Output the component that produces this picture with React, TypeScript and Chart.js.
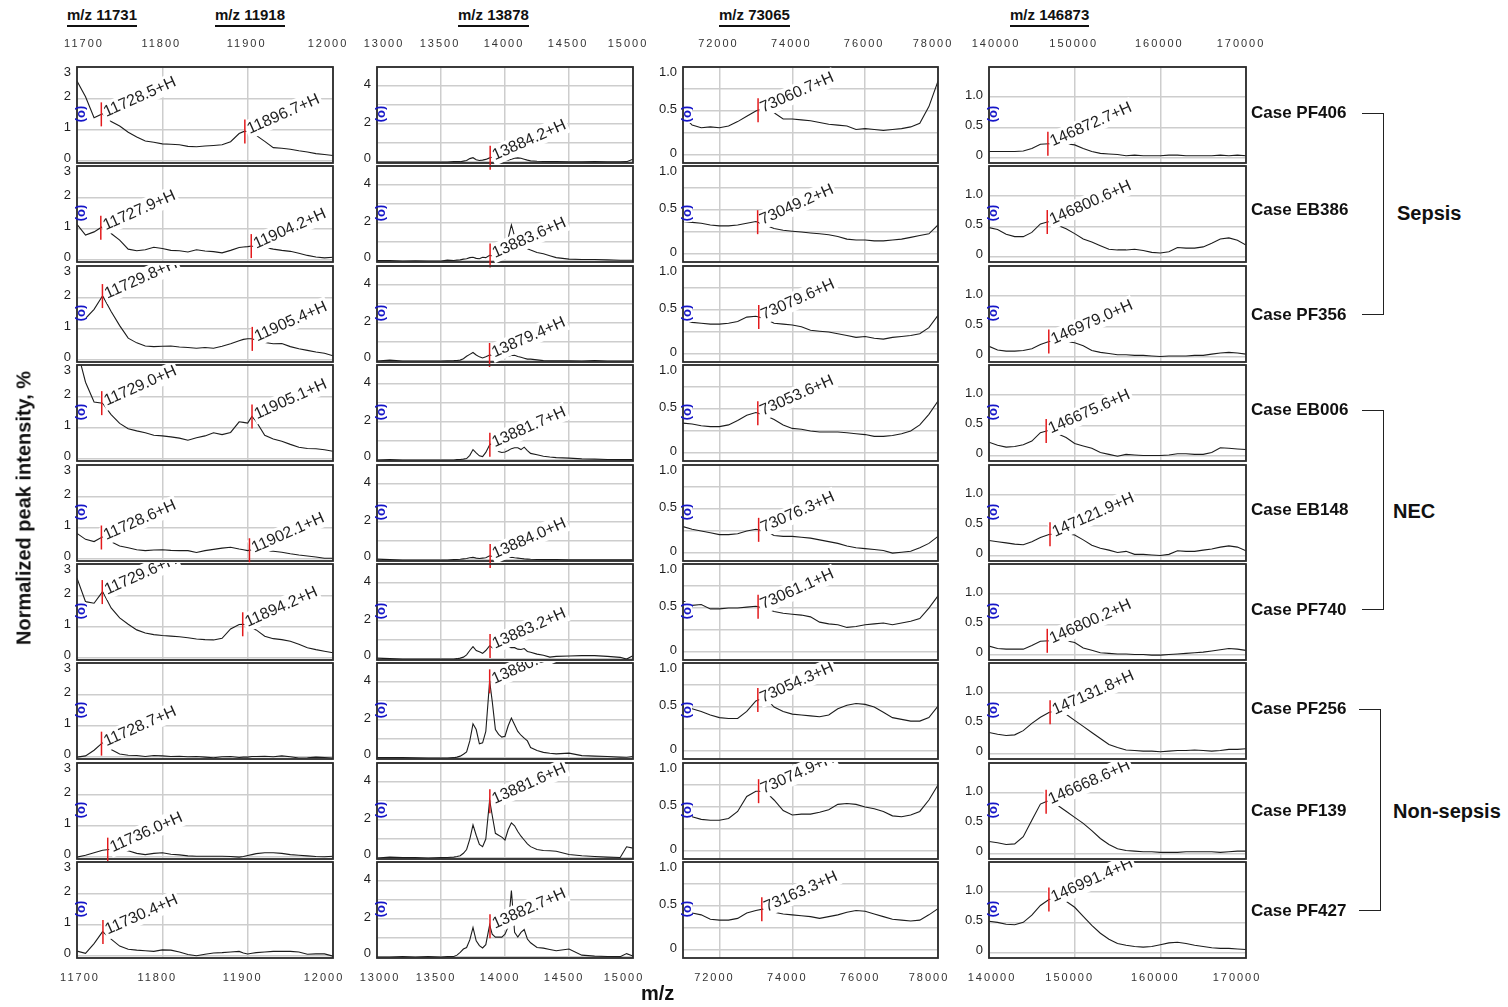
import React, { useEffect, useRef } from "react";
import { Chart, registerables } from "chart.js";
Chart.register(...registerables);

const FONT = '"Liberation Sans", Arial, Helvetica, sans-serif';

// ---------------- labels ----------------
const caseNames = ["Case PF406", "Case EB386", "Case PF356", "Case EB006", "Case EB148", "Case PF740", "Case PF256", "Case PF139", "Case PF427"];
const groupNames = ["Sepsis", "NEC", "Non-sepsis"];
const headerLabels = ["m/z 11731", "m/z 11918", "m/z 13878", "m/z 73065", "m/z 146873"];
const yTitle = "Normalized peak intensity, %";
const xTitle = "m/z";

// ---------------- column A : m/z 11731 / 11918 ----------------
const mzA = [11700, 11710, 11720, 11730, 11740, 11750, 11760, 11770, 11780, 11790, 11800, 11810, 11820, 11830, 11840, 11850, 11860, 11870, 11880, 11890, 11895, 11900, 11905, 11910, 11920, 11930, 11940, 11950, 11960, 11970, 11980, 11990, 12000];
const A_PF406 = [2.55, 2.05, 1.38, 1.51, 1.26, 1.12, 0.92, 0.77, 0.64, 0.6, 0.55, 0.54, 0.52, 0.47, 0.46, 0.48, 0.5, 0.52, 0.62, 0.88, 0.94, 0.96, 0.92, 0.82, 0.63, 0.43, 0.41, 0.38, 0.33, 0.29, 0.24, 0.21, 0.18];
const A_EB386 = [1.14, 0.8, 0.9, 1.07, 0.85, 0.64, 0.35, 0.3, 0.33, 0.41, 0.37, 0.31, 0.3, 0.26, 0.33, 0.29, 0.27, 0.23, 0.31, 0.4, 0.42, 0.43, 0.45, 0.42, 0.4, 0.35, 0.31, 0.28, 0.22, 0.15, 0.1, 0.07, 0.09];
const A_PF356 = [1.32, 1.33, 1.62, 2.05, 1.55, 1.1, 0.7, 0.55, 0.45, 0.43, 0.44, 0.45, 0.42, 0.4, 0.38, 0.4, 0.38, 0.44, 0.52, 0.62, 0.66, 0.68, 0.68, 0.64, 0.56, 0.52, 0.53, 0.43, 0.36, 0.31, 0.26, 0.22, 0.14];
const A_EB006 = [3.5, 2.45, 1.82, 1.78, 1.42, 1.14, 0.97, 0.9, 0.84, 0.76, 0.74, 0.71, 0.67, 0.6, 0.68, 0.74, 0.84, 0.78, 0.85, 1.19, 1.17, 1.15, 1.36, 1.2, 0.76, 0.64, 0.57, 0.47, 0.38, 0.34, 0.33, 0.3, 0.25];
const A_EB148 = [0.82, 0.63, 0.56, 0.71, 0.55, 0.42, 0.36, 0.3, 0.27, 0.29, 0.3, 0.28, 0.27, 0.27, 0.21, 0.27, 0.31, 0.35, 0.38, 0.32, 0.3, 0.27, 0.3, 0.28, 0.26, 0.25, 0.22, 0.17, 0.13, 0.1, 0.07, 0.03, 0.03];
const A_PF740 = [2.55, 1.8, 1.75, 2.12, 1.6, 1.28, 1.08, 0.9, 0.8, 0.75, 0.72, 0.7, 0.68, 0.65, 0.61, 0.59, 0.58, 0.63, 0.93, 1.07, 1.08, 1.05, 0.95, 0.9, 0.7, 0.62, 0.59, 0.54, 0.44, 0.33, 0.27, 0.22, 0.17];
const A_PF256 = [0.0, 0.04, 0.22, 0.46, 0.24, 0.1, 0.06, 0.05, 0.02, 0.05, 0.04, 0.02, 0.03, 0.01, 0.02, 0.0, -0.02, 0.01, 0.02, -0.01, 0.0, 0.0, 0.02, 0.02, 0.03, 0.01, 0.04, 0.01, -0.03, -0.02, 0.0, -0.01, -0.03];
const A_PF139 = [0.0, 0.06, 0.14, 0.22, 0.25, 0.25, 0.2, 0.12, 0.08, 0.12, 0.14, 0.09, 0.07, 0.04, 0.03, 0.03, 0.03, 0.03, 0.02, 0.0, 0.02, 0.05, 0.08, 0.11, 0.14, 0.14, 0.12, 0.08, 0.06, 0.04, 0.02, 0.01, 0.03];
const A_PF427 = [0.16, 0.09, 0.4, 0.78, 0.54, 0.32, 0.22, 0.19, 0.17, 0.15, 0.2, 0.19, 0.13, 0.05, 0.01, 0.06, 0.1, 0.11, 0.13, 0.15, 0.1, 0.07, 0.09, 0.11, 0.13, 0.15, 0.15, 0.15, 0.13, 0.06, 0.07, 0.07, 0.0];
const peaksA = [[11728.5, 11896.7], [11727.9, 11904.2], [11729.8, 11905.4], [11729.0, 11905.1], [11728.6, 11902.1], [11729.6, 11894.2], [11728.7], [11736.0], [11730.4]];
const xTicksA = [11700, 11800, 11900, 12000];
const yGridA = [0, 1, 2, 3];
const yLabelsA = [0, 1, 2, 3];

// ---------------- column B : m/z 13878 ----------------
const mzB = [13000, 13100, 13200, 13300, 13400, 13500, 13550, 13600, 13625, 13650, 13675, 13700, 13725, 13750, 13775, 13800, 13825, 13850, 13880, 13900, 13925, 13950, 13975, 14000, 14025, 14050, 14075, 14100, 14125, 14150, 14175, 14200, 14250, 14300, 14350, 14400, 14500, 14600, 14700, 14800, 14900, 14950, 15000];
const B_PF406 = [0, 0, 0, 0, 0, 0, 0, 0.02, 0.03, 0.02, 0.05, 0.08, 0.18, 0.23, 0.12, 0.08, 0.1, 0.14, 0.22, 0.26, 0.18, 0.12, 0.1, 0.12, 0.1, 0.15, 0.2, 0.22, 0.2, 0.15, 0.1, 0.06, 0.04, 0.03, 0.02, 0.02, 0.01, 0.01, 0.02, 0.01, 0.01, 0.02, 0.15];
const B_EB386 = [0.02, 0.02, 0, 0.01, 0, 0, 0.05, 0.03, 0.05, 0.06, 0.1, 0.12, 0.18, 0.2, 0.14, 0.12, 0.2, 0.18, 0.3, 0.28, 0.3, 0.45, 0.6, 0.8, 1.2, 1.9, 1.3, 1.0, 0.85, 0.75, 0.65, 0.58, 0.45, 0.38, 0.28, 0.18, 0.1, 0.08, 0.08, 0.06, 0.04, 0.04, 0.04];
const B_PF356 = [0, 0.05, 0, 0, 0, 0, 0.01, 0.02, 0.03, 0.05, 0.12, 0.25, 0.35, 0.45, 0.32, 0.22, 0.16, 0.22, 0.32, 0.3, 0.25, 0.22, 0.2, 0.22, 0.26, 0.3, 0.3, 0.24, 0.2, 0.15, 0.1, 0.1, 0.06, 0.02, 0.01, 0.01, 0.01, 0, 0.02, 0, 0, 0, 0];
const B_EB006 = [0, 0.02, 0, 0, 0, 0, 0, 0, 0.02, 0.03, 0.05, 0.08, 0.25, 0.55, 0.38, 0.22, 0.18, 0.4, 0.8, 0.9, 0.6, 0.45, 0.4, 0.42, 0.5, 0.6, 0.65, 0.65, 0.55, 0.68, 0.5, 0.35, 0.28, 0.2, 0.16, 0.13, 0.1, 0.06, 0.05, 0.03, 0.02, 0.02, 0.02];
const B_EB148 = [0.05, 0.02, 0, 0, 0, 0, 0, 0.02, 0.03, 0.04, 0.06, 0.08, 0.12, 0.14, 0.1, 0.08, 0.1, 0.12, 0.22, 0.2, 0.12, 0.1, 0.1, 0.12, 0.14, 0.15, 0.12, 0.1, 0.08, 0.06, 0.05, 0.04, 0.03, 0.02, 0.02, 0.02, 0.01, 0.01, 0.01, 0.01, 0.01, 0.01, 0.01];
const B_PF740 = [0.05, 0.02, 0, 0, 0, 0, 0, 0, 0.02, 0.05, 0.1, 0.22, 0.45, 0.65, 0.45, 0.38, 0.3, 0.45, 0.7, 0.6, 0.52, 0.5, 0.55, 0.6, 0.62, 0.6, 0.6, 0.52, 0.5, 0.55, 0.4, 0.36, 0.26, 0.2, 0.1, 0.14, 0.16, 0.18, 0.18, 0.14, 0.09, 0.0, 0.18];
const B_PF256 = [0.02, 0.03, 0.02, 0.01, 0, 0, 0, 0.02, 0.05, 0.1, 0.2, 0.32, 0.9, 1.8, 1.5, 0.75, 0.8, 1.4, 4.05, 3.0, 1.5, 1.25, 1.1, 1.15, 1.7, 2.1, 1.75, 1.4, 1.2, 1.05, 0.9, 0.55, 0.4, 0.3, 0.25, 0.22, 0.26, 0.13, 0.1, 0.08, 0.05, 0.04, 0.08];
const B_PF139 = [0, 0.05, 0.02, 0.02, 0, 0.02, 0.03, 0.05, 0.08, 0.12, 0.25, 0.45, 1.0, 1.75, 1.2, 0.72, 0.6, 1.0, 3.05, 2.25, 1.3, 1.2, 1.1, 0.95, 1.5, 1.85, 1.7, 1.4, 1.15, 0.95, 0.75, 0.6, 0.45, 0.4, 0.38, 0.36, 0.19, 0.12, 0.08, 0.05, 0.03, 0.59, 0.52];
const B_PF427 = [0, 0, 0.02, 0, 0.02, 0, 0.02, 0.03, 0.1, 0.25, 0.42, 0.5, 0.9, 1.55, 0.85, 0.6, 0.48, 0.65, 1.69, 1.2, 1.05, 1.05, 1.05, 1.2, 1.6, 3.5, 1.3, 1.05, 1.3, 1.45, 0.95, 0.75, 0.5, 0.47, 0.4, 0.33, 0.42, 0.1, 0.05, 0.03, 0.02, 0.18, 0.05];
const peaksB = [[13884.2], [13883.6], [13879.4], [13881.7], [13884.0], [13883.2], [13880.3], [13881.6], [13882.7]];
const xTicksB = [13000, 13500, 14000, 14500, 15000];
const yGridB = [0, 1, 2, 3, 4, 5];
const yLabelsB = [0, 2, 4];

// ---------------- column C : m/z 73065 ----------------
const mzC = [71000, 71250, 71500, 71750, 72000, 72250, 72500, 72750, 73000, 73250, 73500, 73750, 74000, 74250, 74500, 74750, 75000, 75250, 75500, 75750, 76000, 76250, 76500, 76750, 77000, 77250, 77500, 77750, 78000];
const C_PF406 = [0.45, 0.34, 0.31, 0.32, 0.31, 0.33, 0.38, 0.44, 0.5, 0.54, 0.48, 0.41, 0.41, 0.4, 0.39, 0.37, 0.35, 0.34, 0.33, 0.29, 0.3, 0.29, 0.28, 0.29, 0.3, 0.32, 0.36, 0.55, 0.84];
const C_EB386 = [0.37, 0.36, 0.35, 0.33, 0.32, 0.32, 0.33, 0.35, 0.37, 0.33, 0.29, 0.27, 0.26, 0.25, 0.24, 0.23, 0.22, 0.2, 0.17, 0.16, 0.16, 0.15, 0.15, 0.16, 0.17, 0.19, 0.21, 0.23, 0.33];
const C_PF356 = [0.39, 0.36, 0.35, 0.34, 0.34, 0.35, 0.37, 0.42, 0.43, 0.4, 0.35, 0.34, 0.33, 0.31, 0.27, 0.26, 0.25, 0.23, 0.21, 0.19, 0.2, 0.18, 0.17, 0.19, 0.2, 0.21, 0.23, 0.3, 0.44];
const C_EB006 = [0.34, 0.33, 0.31, 0.3, 0.3, 0.32, 0.37, 0.43, 0.46, 0.43, 0.38, 0.32, 0.28, 0.27, 0.25, 0.24, 0.24, 0.24, 0.23, 0.22, 0.21, 0.19, 0.19, 0.2, 0.22, 0.25, 0.32, 0.44, 0.59];
const C_EB148 = [0.3, 0.27, 0.25, 0.23, 0.21, 0.21, 0.22, 0.25, 0.27, 0.25, 0.2, 0.19, 0.19, 0.18, 0.17, 0.15, 0.13, 0.11, 0.08, 0.06, 0.05, 0.04, 0.03, 0.0, 0.01, 0.02, 0.06, 0.11, 0.19];
const C_PF740 = [0.58, 0.53, 0.54, 0.49, 0.49, 0.5, 0.5, 0.51, 0.52, 0.5, 0.46, 0.44, 0.43, 0.42, 0.4, 0.34, 0.32, 0.31, 0.28, 0.29, 0.31, 0.32, 0.33, 0.31, 0.33, 0.35, 0.38, 0.5, 0.64];
const C_PF256 = [0.5, 0.48, 0.45, 0.41, 0.38, 0.37, 0.37, 0.45, 0.57, 0.61, 0.5, 0.45, 0.42, 0.41, 0.4, 0.39, 0.41, 0.48, 0.52, 0.54, 0.53, 0.5, 0.44, 0.38, 0.36, 0.34, 0.34, 0.38, 0.51];
const C_PF139 = [0.41, 0.39, 0.36, 0.35, 0.35, 0.37, 0.45, 0.62, 0.68, 0.68, 0.58, 0.46, 0.41, 0.42, 0.42, 0.44, 0.47, 0.53, 0.54, 0.53, 0.5, 0.48, 0.45, 0.4, 0.39, 0.41, 0.45, 0.58, 0.75];
const C_PF427 = [0.45, 0.42, 0.4, 0.35, 0.34, 0.34, 0.36, 0.42, 0.45, 0.47, 0.43, 0.41, 0.4, 0.39, 0.38, 0.36, 0.38, 0.4, 0.43, 0.45, 0.44, 0.41, 0.38, 0.35, 0.34, 0.33, 0.34, 0.4, 0.47];
const peaksC = [[73060.7], [73049.2], [73079.6], [73053.6], [73076.3], [73061.1], [73054.3], [73074.9], [73163.3]];
const xTicksC = [72000, 74000, 76000, 78000];
const yGridC = [0, 0.25, 0.5, 0.75, 1.0];
const yLabelsC = [0, 0.5, 1.0];

// ---------------- column D : m/z 146873 ----------------
const mzD = [140000, 141000, 142000, 143000, 144000, 145000, 146000, 147000, 148000, 149000, 150000, 151000, 152000, 153000, 154000, 155000, 156000, 157000, 158000, 159000, 160000, 161000, 162000, 163000, 164000, 165000, 166000, 167000, 168000, 169000, 170000];
const D_PF406 = [0.1, 0.1, 0.1, 0.1, 0.11, 0.15, 0.22, 0.23, 0.24, 0.23, 0.21, 0.15, 0.1, 0.07, 0.06, 0.05, 0.03, 0.04, 0.03, 0.03, 0.03, 0.04, 0.04, 0.03, 0.03, 0.03, 0.03, 0.04, 0.03, 0.04, 0.03];
const D_EB386 = [0.48, 0.45, 0.37, 0.33, 0.33, 0.4, 0.54, 0.58, 0.52, 0.46, 0.38, 0.29, 0.24, 0.18, 0.12, 0.11, 0.11, 0.12, 0.1, 0.07, 0.06, 0.08, 0.15, 0.14, 0.14, 0.16, 0.22, 0.29, 0.31, 0.27, 0.19];
const D_PF356 = [0.17, 0.11, 0.09, 0.09, 0.1, 0.13, 0.2, 0.25, 0.27, 0.25, 0.23, 0.18, 0.1, 0.07, 0.05, 0.03, 0.03, 0.02, 0.02, 0.01, 0.0, 0.01, 0.01, 0.01, 0.02, 0.02, 0.04, 0.06, 0.07, 0.06, 0.04];
const D_EB006 = [0.22, 0.17, 0.14, 0.15, 0.18, 0.24, 0.38, 0.42, 0.36, 0.3, 0.2, 0.16, 0.12, 0.05, 0.02, -0.01, 0.02, 0.01, 0.0, 0.0, 0.0, 0.01, 0.03, 0.03, 0.02, 0.02, 0.05, 0.13, 0.12, 0.11, 0.1];
const D_EB148 = [0.25, 0.23, 0.21, 0.19, 0.18, 0.23, 0.3, 0.35, 0.37, 0.36, 0.34, 0.26, 0.17, 0.12, 0.09, 0.05, 0.07, 0.02, 0.02, 0.01, 0.0, 0.02, 0.08, 0.07, 0.07, 0.09, 0.11, 0.14, 0.16, 0.14, 0.08];
const D_PF740 = [0.14, 0.1, 0.09, 0.09, 0.09, 0.15, 0.22, 0.23, 0.24, 0.23, 0.2, 0.11, 0.07, 0.03, 0.02, 0.01, 0.01, 0.0, 0.0, -0.01, -0.01, 0.0, 0.01, 0.02, 0.03, 0.04, 0.06, 0.08, 0.1, 0.09, 0.07];
const D_PF256 = [0.35, 0.32, 0.3, 0.31, 0.38, 0.5, 0.6, 0.68, 0.72, 0.65, 0.55, 0.45, 0.35, 0.25, 0.15, 0.1, 0.06, 0.05, 0.04, 0.04, 0.03, 0.04, 0.05, 0.05, 0.06, 0.05, 0.04, 0.05, 0.07, 0.07, 0.08];
const D_PF139 = [0.2, 0.18, 0.15, 0.16, 0.28, 0.55, 0.82, 0.88, 0.8, 0.7, 0.6, 0.5, 0.38, 0.25, 0.15, 0.08, 0.05, 0.04, 0.03, 0.03, 0.02, 0.02, 0.02, 0.03, 0.03, 0.03, 0.03, 0.02, 0.03, 0.04, 0.04];
const D_PF427 = [0.52, 0.5, 0.47, 0.46, 0.5, 0.62, 0.78, 0.88, 0.92, 0.85, 0.75, 0.6, 0.45, 0.32, 0.22, 0.15, 0.12, 0.1, 0.09, 0.1, 0.13, 0.16, 0.17, 0.15, 0.12, 0.1, 0.08, 0.07, 0.07, 0.06, 0.05];
const peaksD = [[146872.7], [146800.6], [146979.0], [146675.6], [147121.9], [146800.2], [147131.8], [146668.6], [146991.4]];
const xTicksD = [140000, 150000, 160000, 170000];
const yGridD = [0, 0.5, 1.0, 1.5];
const yLabelsD = [0, 0.5, 1.0];

// ---------------- tables built from the arrays ----------------
type Col = {
  mz: number[]; series: number[][]; peaks: number[][];
  xMin: number; xMax: number; yMin: number; yMax: number;
  xTicks: number[]; yGrid: number[]; yLabels: number[]; dec: number;
};
const COLUMNS: Col[] = [
  { mz: mzA, series: [A_PF406, A_EB386, A_PF356, A_EB006, A_EB148, A_PF740, A_PF256, A_PF139, A_PF427], peaks: peaksA, xMin: 11700, xMax: 12000, yMin: -0.06, yMax: 3, xTicks: xTicksA, yGrid: yGridA, yLabels: yLabelsA, dec: 0 },
  { mz: mzB, series: [B_PF406, B_EB386, B_PF356, B_EB006, B_EB148, B_PF740, B_PF256, B_PF139, B_PF427], peaks: peaksB, xMin: 13000, xMax: 15000, yMin: -0.05, yMax: 5, xTicks: xTicksB, yGrid: yGridB, yLabels: yLabelsB, dec: 0 },
  { mz: mzC, series: [C_PF406, C_EB386, C_PF356, C_EB006, C_EB148, C_PF740, C_PF256, C_PF139, C_PF427], peaks: peaksC, xMin: 71000, xMax: 78000, yMin: -0.09, yMax: 1.0, xTicks: xTicksC, yGrid: yGridC, yLabels: yLabelsC, dec: 1 },
  { mz: mzD, series: [D_PF406, D_EB386, D_PF356, D_EB006, D_EB148, D_PF740, D_PF256, D_PF139, D_PF427], peaks: peaksD, xMin: 140000, xMax: 170000, yMin: -0.09, yMax: 1.5, xTicks: xTicksD, yGrid: yGridD, yLabels: yLabelsD, dec: 1 },
];

// ---------------- layout ----------------
const COL_LEFT = [77, 377, 683, 989];
const COL_W = [256, 256, 255, 257];
const ROW_TOP = [67, 166, 266, 365, 465, 564, 663, 763, 862];
const PANEL_H = 96;
const PAD = { l: 44, r: 32, t: 32, b: 32 };

function interp(xs: number[], ys: number[], x: number) {
  for (let i = 0; i < xs.length - 1; i++) {
    if (x >= xs[i] && x <= xs[i + 1]) {
      const t = (x - xs[i]) / (xs[i + 1] - xs[i]);
      return ys[i] + t * (ys[i + 1] - ys[i]);
    }
  }
  return ys[ys.length - 1];
}

function Panel({ c, r }: { c: number; r: number }) {
  const ref = useRef<HTMLCanvasElement>(null);
  const W = COL_W[c] + PAD.l + PAD.r;
  const H = PANEL_H + PAD.t + PAD.b;
  useEffect(() => {
    const col = COLUMNS[c];
    const ys = col.series[r];
    const peaks = col.peaks[r];
    const last = ROW_TOP.length - 1;
    const fmt = (v: number) => (v === 0 ? "0" : v.toFixed(col.dec));
    const deco = {
      id: "deco",
      afterDraw(chart: any) {
        const ctx: CanvasRenderingContext2D = chart.ctx;
        const a = chart.chartArea;
        const xs = chart.scales.x;
        const yS = chart.scales.y;
        ctx.save();
        // frame
        ctx.strokeStyle = "#2b2b2b";
        ctx.lineWidth = 1.8;
        ctx.strokeRect(a.left, a.top, a.right - a.left, a.bottom - a.top);
        // y tick labels
        ctx.fillStyle = "#1e1e1e";
        ctx.font = `13px ${FONT}`;
        ctx.textAlign = "right";
        ctx.textBaseline = "middle";
        for (const v of col.yLabels) {
          let py = yS.getPixelForValue(v) - 2;
          py = Math.min(Math.max(py, a.top + 5), a.bottom - 5);
          ctx.fillText(fmt(v), a.left - 6, py);
        }
        // x tick labels (top row and bottom row)
        if (r === 0 || r === last) {
          const atTop = r === 0;
          ctx.font = `11px ${FONT}`;
          (ctx as any).letterSpacing = "2px";
          ctx.fillStyle = "#333";
          ctx.textAlign = "center";
          for (const v of col.xTicks) {
            const p0 = xs.getPixelForValue(v);
            let px = p0 + (atTop ? -2 : -6);
            if (Math.abs(p0 - a.left) < 2) px += 8;
            if (Math.abs(p0 - a.right) < 2) px -= 4;
            ctx.fillText(String(v), px + 1, atTop ? a.top - 23 : a.bottom + 20);
          }
          (ctx as any).letterSpacing = "0px";
        }
        // blue marker glyph
        ctx.save();
        ctx.translate(a.left + 5, a.top + 47);
        ctx.rotate(Math.PI / 2);
        ctx.font = `bold 13px ${FONT}`;
        ctx.fillStyle = "#fff";
        ctx.fillRect(-9, -4, 18, 8);
        ctx.fillStyle = "#1515c8";
        ctx.textAlign = "center";
        ctx.textBaseline = "middle";
        ctx.fillText("(o)", 0, 0);
        ctx.restore();
        // peak annotations
        ctx.beginPath();
        ctx.rect(0, r === 0 ? 0 : a.top - 1, chart.width, chart.height);
        ctx.clip();
        ctx.font = `16px ${FONT}`;
        ctx.textAlign = "left";
        ctx.textBaseline = "alphabetic";
        for (const p of peaks) {
          const v = interp(col.mz, ys, p);
          const px = xs.getPixelForValue(p);
          const py = yS.getPixelForValue(v);
          const text = p.toFixed(1) + "+H";
          ctx.save();
          ctx.translate(px + 4, py + 3);
          ctx.rotate((-24 * Math.PI) / 180);
          const w = ctx.measureText(text).width;
          ctx.fillStyle = "#fff";
          ctx.fillRect(-1, -14, w + 4, 19);
          ctx.fillStyle = "#1e1e1e";
          ctx.fillText(text, 1, 0);
          ctx.restore();
          ctx.strokeStyle = "#e31a1c";
          ctx.lineWidth = 1.5;
          ctx.beginPath();
          ctx.moveTo(px, py - 12);
          ctx.lineTo(px, py + 12);
          ctx.stroke();
        }
        ctx.restore();
      },
    };
    const grid = { color: "#cdcdcd", lineWidth: 1.5, drawTicks: false };
    const chart = new Chart(ref.current as HTMLCanvasElement, {
      type: "line",
      data: {
        datasets: [
          {
            data: col.mz.map((x, i) => ({ x, y: ys[i] })),
            borderColor: "#1c1c1c",
            borderWidth: 1.1,
            pointRadius: 0,
            tension: 0,
            fill: false,
          },
        ],
      },
      options: {
        responsive: false,
        animation: false,
        devicePixelRatio: 1,
        events: [],
        layout: { padding: { left: PAD.l, right: PAD.r, top: PAD.t, bottom: PAD.b } },
        plugins: { legend: { display: false }, tooltip: { enabled: false }, title: { display: false } },
        scales: {
          x: {
            type: "linear",
            min: col.xMin,
            max: col.xMax,
            afterBuildTicks: (s: any) => { s.ticks = col.xTicks.map((v) => ({ value: v })); },
            afterFit: (s: any) => { s.height = 0; },
            ticks: { display: false },
            grid,
            border: { display: false },
          },
          y: {
            type: "linear",
            min: col.yMin,
            max: col.yMax,
            afterBuildTicks: (s: any) => { s.ticks = col.yGrid.map((v) => ({ value: v })); },
            afterFit: (s: any) => { s.width = 0; },
            ticks: { display: false },
            grid,
            border: { display: false },
          },
        },
      } as any,
      plugins: [deco],
    });
    return () => chart.destroy();
  }, [c, r]);
  return (
    <canvas
      ref={ref}
      width={W}
      height={H}
      style={{ position: "absolute", left: COL_LEFT[c] - PAD.l, top: ROW_TOP[r] - PAD.t, width: W, height: H }}
    />
  );
}

const HEADER_LEFT = [67, 215, 458, 719, 1010];
const CASE_Y = [113, 210, 315, 410, 510, 610, 709, 811, 911];
const GROUPS = [
  { top: 113, bottom: 315, x: 1384, mid: 213, labelX: 1397 },
  { top: 410, bottom: 610, x: 1384, mid: 511, labelX: 1393 },
  { top: 709, bottom: 911, x: 1381, mid: 811, labelX: 1393 },
];

export default function App() {
  const panels: React.ReactNode[] = [];
  for (let c = 0; c < 4; c++) for (let r = 0; r < 9; r++) panels.push(<Panel key={`${c}-${r}`} c={c} r={r} />);
  return (
    <div style={{ position: "absolute", left: 0, top: 0, width: 1508, height: 1007, overflow: "hidden", background: "#fff", fontFamily: FONT, color: "#111" }}>
      {panels}
      {headerLabels.map((h, i) => (
        <div key={h} style={{ position: "absolute", left: HEADER_LEFT[i], top: 6, font: `bold 15px ${FONT}`, lineHeight: "18px", paddingBottom: 1, borderBottom: "2.5px solid #111", whiteSpace: "nowrap" }}>
          {h}
        </div>
      ))}
      {caseNames.map((n, i) => (
        <div key={n} style={{ position: "absolute", left: 1251, top: CASE_Y[i] - 10, font: `bold 17px ${FONT}`, lineHeight: "20px", whiteSpace: "nowrap" }}>
          {n}
        </div>
      ))}
      {GROUPS.map((g, i) => (
        <React.Fragment key={groupNames[i]}>
          <div style={{ position: "absolute", left: g.x - 22, top: g.top, width: 22, height: g.bottom - g.top, borderTop: "1.5px solid #222", borderRight: "1.5px solid #222", borderBottom: "1.5px solid #222", boxSizing: "border-box" }} />
          <div style={{ position: "absolute", left: g.labelX, top: g.mid - 12, font: `bold 20px ${FONT}`, lineHeight: "24px", whiteSpace: "nowrap" }}>
            {groupNames[i]}
          </div>
        </React.Fragment>
      ))}
      <div style={{ position: "absolute", left: 24, top: 508, transform: "translate(-50%, -50%) rotate(-90deg)", font: `bold 20px ${FONT}`, whiteSpace: "nowrap" }}>
        {yTitle}
      </div>
      <div style={{ position: "absolute", left: 641, top: 981, font: `bold 20px ${FONT}`, lineHeight: "24px" }}>{xTitle}</div>
    </div>
  );
}
